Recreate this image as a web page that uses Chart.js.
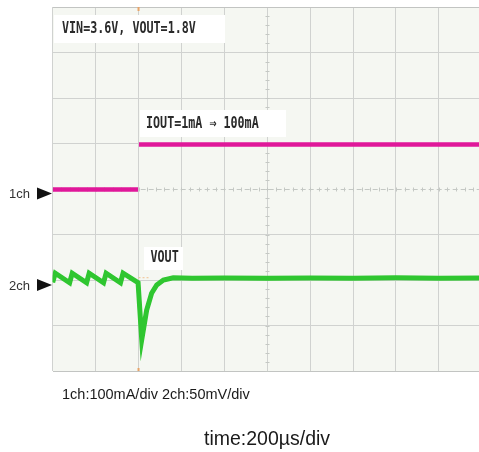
<!DOCTYPE html>
<html><head><meta charset="utf-8">
<script src="https://cdn.jsdelivr.net/npm/chart.js@4/dist/chart.umd.min.js"></script>
<style>html,body{margin:0;padding:0;background:#fff;overflow:hidden}canvas{display:block}</style>
</head><body><canvas id="c" width="479" height="452"></canvas>
<script>
// ---- data (time in µs, ch1 in mA, ch2 in mV relative to its marker) ----
const ch1TimeUs    = [0, 398, 400, 402, 1990];
const ch1CurrentMA = [9, 9, null, 108, 108];

const ch2TimeUs = [0, 12, 79, 91, 158, 170, 237, 249, 316, 328, 398, 415, 438, 461, 485, 516, 562, 650, 800, 1000, 1200, 1400, 1600, 1800, 1990];
const ch2VoutMV = [3, 13, 2.5, 13, 2.5, 13, 2.5, 13, 2.5, 13, 2.5, -60, -27.5, -9, 0, 5.5, 8, 7.5, 7.8, 7.3, 7.8, 7.5, 7.9, 7.4, 7.6];

const xGridUs = [0, 200, 400, 600, 800, 1000, 1200, 1400, 1600, 1800];
const yGridDiv = [0, 1, 2, 3, 4, 5, 6, 7, 8];

const CH1_OFFSET_DIV = 3.9,  CH1_MA_PER_DIV = 100;
const CH2_OFFSET_DIV = 1.89, CH2_MV_PER_DIV = 50;
const TRIGGER_US = 400;

const ch1Points = ch1TimeUs.map((t, i) => ({x: t, y: ch1CurrentMA[i] === null ? null : CH1_OFFSET_DIV + ch1CurrentMA[i] / CH1_MA_PER_DIV}));
const ch2Points = ch2TimeUs.map((t, i) => ({x: t, y: CH2_OFFSET_DIV + ch2VoutMV[i] / CH2_MV_PER_DIV}));

const MONO = 'bold 15px "DejaVu Sans Mono"';
function monoText(ctx, txt, x, cy) {
  ctx.save();
  ctx.translate(x, cy);
  ctx.scale(0.78, 1);
  ctx.font = MONO;
  ctx.textBaseline = 'middle';
  ctx.fillStyle = '#2a2a2a';
  ctx.fillText(txt, 0, 0);
  ctx.restore();
}

const scopeDecor = {
  id: 'scopeDecor',
  beforeDraw(chart) {
    const {ctx, chartArea: a} = chart;
    ctx.save();
    ctx.fillStyle = '#f5f7f2';
    ctx.fillRect(a.left, a.top, a.right - a.left, a.bottom - a.top);
    ctx.restore();
  },
  beforeDatasetsDraw(chart) {
    const {ctx, chartArea: a, scales: {x, y}} = chart;
    ctx.save();
    const cy = Math.round(y.getPixelForValue(4)) + 0.5;
    ctx.strokeStyle = '#c4c8c4';
    ctx.lineWidth = 1;
    ctx.setLineDash([5, 3]);
    ctx.beginPath(); ctx.moveTo(a.left, cy); ctx.lineTo(a.right, cy); ctx.stroke();
    ctx.setLineDash([]);
    for (let t = 0; t <= 2000; t += 40) {
      const px = Math.round(x.getPixelForValue(t)) + 0.5;
      if (px > a.right) break;
      ctx.beginPath(); ctx.moveTo(px, cy - 2); ctx.lineTo(px, cy + 2); ctx.stroke();
    }
    const cx = Math.round(x.getPixelForValue(1000)) + 0.5;
    for (let d = 0; d <= 8; d += 0.2) {
      const py = Math.round(y.getPixelForValue(d)) + 0.5;
      ctx.beginPath(); ctx.moveTo(cx - 2, py); ctx.lineTo(cx + 2, py); ctx.stroke();
    }
    const tx = x.getPixelForValue(TRIGGER_US);
    ctx.fillStyle = '#e8a468';
    ctx.fillRect(tx - 1, a.top, 2, 4);
    ctx.fillRect(tx - 1, a.bottom - 3, 2, 3);
    ctx.strokeStyle = '#f0c090';
    ctx.setLineDash([2, 2]);
    const ty = y.getPixelForValue(CH2_OFFSET_DIV + 8 / CH2_MV_PER_DIV);
    ctx.beginPath(); ctx.moveTo(tx, ty); ctx.lineTo(tx + 12, ty); ctx.stroke();
    ctx.setLineDash([]);
    ctx.fillStyle = '#ffffff';
    ctx.fillRect(54, 15, 171, 28);
    ctx.fillRect(140, 110, 146, 27);
    ctx.fillRect(144, 247, 39, 23);
    ctx.restore();
    monoText(ctx, 'VIN=3.6V, VOUT=1.8V', 62, 29);
    monoText(ctx, 'IOUT=1mA \u21D2 100mA', 146, 124);
    monoText(ctx, 'VOUT', 150.5, 258);
  },
  afterDraw(chart) {
    const {ctx, scales: {y}} = chart;
    ctx.save();
    const markers = [['1ch', CH1_OFFSET_DIV], ['2ch', CH2_OFFSET_DIV]];
    markers.forEach(([lab, d]) => {
      const py = y.getPixelForValue(d);
      ctx.fillStyle = '#111';
      ctx.beginPath();
      ctx.moveTo(37, py - 6); ctx.lineTo(52, py); ctx.lineTo(37, py + 6); ctx.closePath();
      ctx.fill();
      ctx.fillStyle = '#333';
      ctx.font = '13px "Liberation Sans"';
      ctx.textBaseline = 'middle';
      ctx.fillText(lab, 9, py + 1);
    });
    ctx.fillStyle = '#1a1a1a';
    ctx.textBaseline = 'alphabetic';
    ctx.font = '14.5px "Liberation Sans"';
    ctx.fillText('1ch:100mA/div 2ch:50mV/div', 62, 399);
    ctx.font = '19.5px "Liberation Sans"';
    ctx.fillText('time:200\u00B5s/div', 204, 445);
    ctx.restore();
  }
};

new Chart(document.getElementById('c'), {
  type: 'line',
  data: {
    datasets: [
      {label: '1ch', data: ch1Points, borderColor: '#e0189a', borderWidth: 4.5, pointRadius: 0, tension: 0, spanGaps: false},
      {label: '2ch edge', data: ch2Points, borderColor: '#2fc630', borderWidth: 5, pointRadius: 0, tension: 0},
      {label: '2ch', data: ch2Points, borderColor: '#3eea3c', borderWidth: 3.6, pointRadius: 0, tension: 0}
    ]
  },
  options: {
    responsive: false,
    animation: false,
    devicePixelRatio: 1,
    layout: {padding: {left: 52.7, top: 7, right: 0, bottom: 81}},
    plugins: {legend: {display: false}, tooltip: {enabled: false}},
    scales: {
      x: {
        type: 'linear', min: 0, max: 1987,
        ticks: {display: false, stepSize: 200},
        afterBuildTicks: s => { s.ticks = xGridUs.map(v => ({value: v})); },
        afterFit: s => { s.height = 0; },
        grid: {color: '#d0d2d0', drawTicks: false},
        border: {display: false}
      },
      y: {
        type: 'linear', min: 0, max: 8,
        ticks: {display: false, stepSize: 1},
        afterBuildTicks: s => { s.ticks = yGridDiv.map(v => ({value: v})); },
        afterFit: s => { s.width = 0; },
        grid: {color: c => c.tick && c.tick.value === 4 ? 'rgba(0,0,0,0)' : ((c.tick && (c.tick.value === 0 || c.tick.value === 8)) ? '#c2c4c2' : '#d0d2d0'), drawTicks: false},
        border: {display: false}
      }
    }
  },
  plugins: [scopeDecor]
});
</script></body></html>
